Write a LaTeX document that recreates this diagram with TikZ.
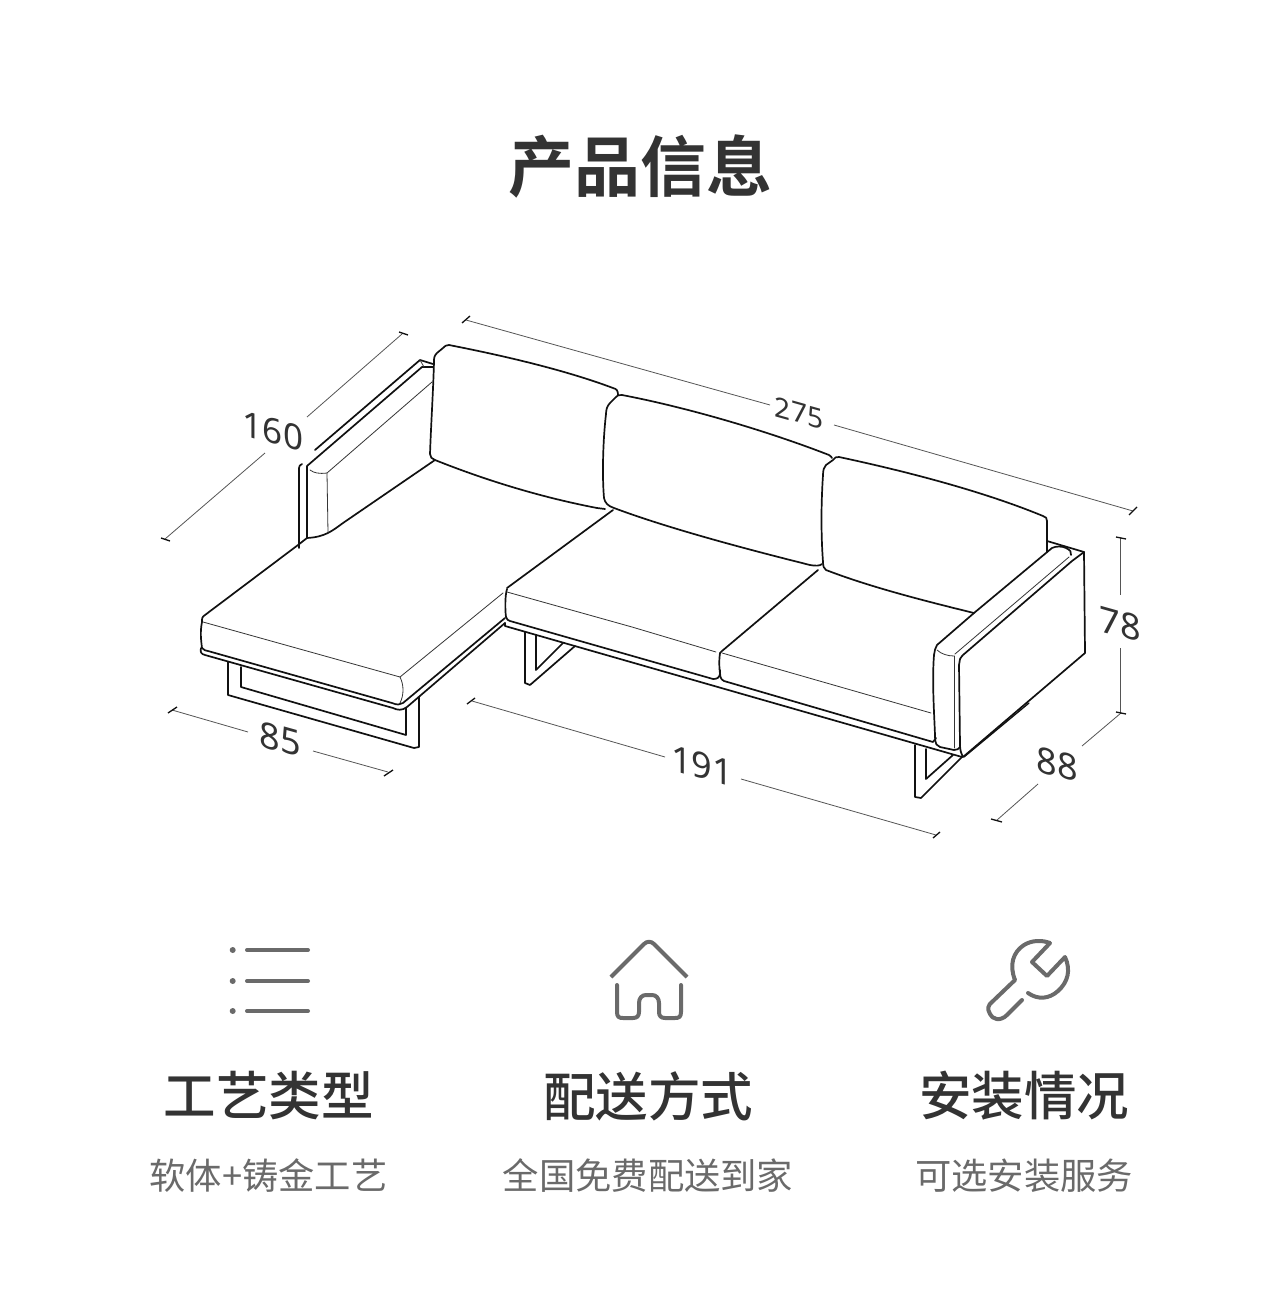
\documentclass[tikz,border=0pt]{standalone}
\usepackage{fontspec}
\setmainfont{Noto Sans}
\newfontfamily\cjk{Noto Sans CJK SC}
\newfontfamily\cjkb{Noto Sans CJK SC Bold}
\newfontfamily\cjkm{Noto Sans CJK SC Medium}
\definecolor{ink}{HTML}{111111}
\definecolor{dimc}{HTML}{555555}
\definecolor{txt}{HTML}{333333}
\definecolor{icon}{HTML}{6A6A6A}
\tikzset{
 heavy/.style={draw=ink,line width=1.7pt,line join=round,line cap=round},
 med/.style={draw=ink,line width=1.3pt,line join=round,line cap=round},
 fine/.style={draw=ink!85,line width=.8pt,line cap=round},
 dimline/.style={draw=dimc,line width=.8pt},
 tick/.style={draw=ink,line width=1.3pt},
 dimlab/.style={text=txt,inner sep=0pt,yslant=-.28},
 ico/.style={draw=icon,line width=4pt,line cap=round,line join=round},
}
\begin{document}
\begin{tikzpicture}[x=1pt,y=-1pt]
\useasboundingbox (0,0) rectangle (1280,1298);
\fill[white] (0,0) rectangle (1280,1298);
% title
\node[text=txt,inner sep=0pt] (title) at (640,166) {\cjkb\fontsize{66}{66}\selectfont 产品信息};
% backrest cushions
\draw[heavy] (618,395) .. controls (618,391) and (617,389) .. (613,388) .. controls (565,370) and (505,356) .. (449,345) .. controls (446,345) and (445,346) .. (443,348) -- (437,353) .. controls (434,356) and (434,358) .. (434,362) .. controls (433,395) and (431,425) .. (430,454) .. controls (430,457) and (432,459) .. (435,460) .. controls (490,482) and (545,498) .. (597,508) -- (605,509);
\draw[heavy] (832,458) .. controls (832,457) and (830,456) .. (829,455) .. controls (770,432) and (690,408) .. (622,395) .. controls (619,394) and (617,396) .. (616,397) -- (610,403) .. controls (607,406) and (606,410) .. (606,414) .. controls (603,440) and (602,475) .. (604,498) .. controls (605,503) and (608,506) .. (614,508) .. controls (670,529) and (750,550) .. (810,565) .. controls (815,566) and (820,566) .. (822,564);
\draw[heavy] (1047,552) -- (1047,521) .. controls (1047,518) and (1046,517) .. (1043,516) .. controls (980,490) and (900,470) .. (839,457) .. controls (836,456) and (835,458) .. (833,460) -- (826,465) .. controls (824,467) and (823,470) .. (823,475) .. controls (821,505) and (821,535) .. (823,562) .. controls (823,566) and (824,569) .. (826,570) .. controls (870,587) and (925,601) .. (974,613);
% chaise seat
\draw[heavy] (435,460) -- (343,523) .. controls (332,531) and (325,537) .. (307,538) -- (298,545) -- (205,615) .. controls (202,617) and (202,618) .. (202,622) .. controls (200,632) and (201,640) .. (202,648);
\draw[heavy] (613,510) -- (507,588);
\draw[fine] (203,622) -- (400,677) -- (503,593);
\draw[fine] (400,677) .. controls (404,685) and (404,695) .. (400,703);
% chaise frame
\draw[heavy] (202,648) .. controls (204,650) and (206,651) .. (208,651) -- (392,703) .. controls (397,705) and (400,705) .. (403,703) -- (505,618);
\draw[heavy] (201,648) .. controls (200,652) and (201,654) .. (205,655) -- (393,708) .. controls (397,710) and (402,711) .. (407,707) -- (505,623);
% chaise legs
\draw[heavy] (228,662) -- (228,695) -- (414,748) -- (419,747) -- (419,697);
\draw[heavy] (241,667) -- (241,687) -- (406,735) -- (406,708);
% left armrest
\draw[heavy] (299,548) -- (299,468) .. controls (299,466) and (300,465) .. (302,464);
\draw[heavy] (307,538) -- (307,466) -- (422,367) -- (433,367);
\draw[heavy] (315,450) -- (420,360) -- (433,364);
\draw[fine] (420,360) -- (424,367);
\draw[fine] (310,470) .. controls (314,473) and (319,474) .. (327,473) -- (432,382);
\draw[fine] (327,473) -- (328,533);
% middle seat
\draw[heavy] (507,589) .. controls (505,595) and (505,610) .. (506,617) .. controls (507,620) and (508,620) .. (510,621) -- (713,679) .. controls (717,679) and (719,678) .. (720,674) .. controls (719,665) and (719,660) .. (720,653) -- (722,651) -- (818,570);
\draw[fine] (507,592) -- (632,627) -- (716,652);
% right seat
\draw[heavy] (720,670) .. controls (720,676) and (720,679) .. (724,681) -- (933,742) -- (936,738);
\draw[fine] (722,653) -- (931,713);
% frame lower rail
\draw[heavy] (505,623) -- (505,626) -- (962,757);
% mid legs
\draw[heavy] (525,632) -- (525,683) -- (530,685) -- (575,646);
\draw[heavy] (536,635) -- (536,670) -- (563,643);
% right legs
\draw[heavy] (915,745) -- (915,797) -- (921,798) -- (962,757);
\draw[heavy] (926,749) -- (926,779) -- (953,755);
% right armrest
\draw[heavy] (974,613) -- (1052,548) .. controls (1056,546) and (1062,546) .. (1066,548) .. controls (1070,550) and (1072,552) .. (1071,555);
\draw[heavy] (974,613) -- (937,645) .. controls (935,648) and (935,650) .. (934,655) .. controls (932,680) and (934,710) .. (935,735) .. controls (935,745) and (937,746) .. (940,747) -- (954,750) .. controls (957,750) and (959,749) .. (960,747);
\draw[fine] (937,650) .. controls (941,654) and (948,656) .. (954,656);
\draw[fine] (955,654) -- (1069,557);
\draw[fine] (954,656) -- (954,748);
\draw[heavy] (960,659) .. controls (962,656) and (962,656) .. (963,655) -- (1072,561) -- (1084,552) -- (1085,653) -- (963,757) .. controls (961,753) and (960,750) .. (960,745) -- (959,665) -- (960,659);
\draw[heavy] (1047,541) -- (1084,552);
\draw[med] (1029,703) -- (964,757);
% dimensions
\coordinate (a1) at (402,334); \coordinate (a2) at (307,417); \coordinate (a3) at (265,453); \coordinate (a4) at (165,539);
\draw[dimline] (a1)--(a2) (a3)--(a4);
\draw[tick] (399,332)--(408,335) (161,538)--(170,541);
\node[dimlab] (d160) at (273,431) {\fontsize{35}{35}\selectfont 160};
\coordinate (b1) at (172,710); \coordinate (b2) at (248,732); \coordinate (b3) at (313,751); \coordinate (b4) at (388,772);
\draw[dimline] (b1)--(b2) (b3)--(b4);
\draw[tick] (168,713)--(177,707) (384,776)--(393,770);
\node[dimlab] (d85) at (280,739) {\fontsize{36}{36}\selectfont 85};
\coordinate (c1) at (466,320); \coordinate (c2) at (770,405); \coordinate (c3) at (834,425); \coordinate (c4) at (1133,511);
\draw[dimline] (c1)--(c2) (c3)--(c4);
\draw[tick] (462,323)--(470,316) (1129,515)--(1137,507);
\node[dimlab] (d275) at (799,413) {\fontsize{28}{28}\selectfont 275};
\coordinate (e1) at (472,701); \coordinate (e2) at (665,757); \coordinate (e3) at (741,779); \coordinate (e4) at (936,835);
\draw[dimline] (e1)--(e2) (e3)--(e4);
\draw[tick] (467,704)--(475,698) (933,838)--(940,832);
\node[dimlab] (d191) at (702,766) {\fontsize{36}{36}\selectfont 191};
\coordinate (f1) at (1121,713); \coordinate (f2) at (1082,746); \coordinate (f3) at (1038,784); \coordinate (f4) at (997,820);
\draw[dimline] (f1)--(f2) (f3)--(f4);
\draw[tick] (991,819)--(1002,822);
\node[dimlab] (d88) at (1057,764) {\fontsize{36}{36}\selectfont 88};
\coordinate (g1) at (1120,538); \coordinate (g2) at (1120,595); \coordinate (g3) at (1120,648); \coordinate (g4) at (1120,713);
\draw[dimline] (g1)--(g2) (g3)--(g4);
\draw[tick] (1116,537)--(1126,539) (1116,712)--(1126,714);
\node[dimlab] (d78) at (1120,624) {\fontsize{36}{36}\selectfont 78};
% list icon
\foreach \yy in {950,981,1011}{
 \fill[icon] (232.7,\yy) circle (3);
 \draw[ico] (247,\yy) -- (308,\yy);
}
% house icon
\draw[ico,line cap=butt] (611,977) -- (644,944) .. controls (647,941) and (651,941) .. (654,944) -- (687,977);
\draw[ico] (617,985) -- (617,1012) .. controls (617,1017) and (619,1018) .. (623,1018) -- (633,1018) .. controls (637,1018) and (639,1016) .. (639,1012) -- (639,1003) .. controls (639,998) and (642,995) .. (646,995) -- (652,995) .. controls (656,995) and (659,998) .. (659,1003) -- (659,1012) .. controls (659,1016) and (661,1018) .. (665,1018) -- (675,1018) .. controls (679,1018) and (681,1017) .. (681,1012) -- (681,985);
% wrench icon
\draw[ico] (1022,1000) -- (1007,1015) .. controls (1000,1022) and (992,1019) .. (990,1014) .. controls (987,1009) and (988,1005) .. (992,1002) -- (1015,980) .. controls (1009,965) and (1013,952) .. (1024,945) .. controls (1032,940) and (1042,940) .. (1050,943) -- (1032,962) -- (1047,976) -- (1065,957) .. controls (1071,970) and (1068,982) .. (1058,991) .. controls (1049,999) and (1038,1000) .. (1028,993);
% headings
\node[text=txt,inner sep=0pt] (h1) at (268.5,1096) {\cjkm\fontsize{52.5}{52.5}\selectfont 工艺类型};
\node[text=txt,inner sep=0pt] (h2) at (648,1096) {\cjkm\fontsize{52.5}{52.5}\selectfont 配送方式};
\node[text=txt,inner sep=0pt] (h3) at (1024,1096) {\cjkm\fontsize{52.5}{52.5}\selectfont 安装情况};
\node[text=icon,inner sep=0pt] (s1) at (268.5,1176) {\cjk\fontsize{36.3}{36.3}\selectfont 软体+铸金工艺};
\node[text=icon,inner sep=0pt] (s2) at (648,1176) {\cjk\fontsize{36.3}{36.3}\selectfont 全国免费配送到家};
\node[text=icon,inner sep=0pt] (s3) at (1024,1176) {\cjk\fontsize{36.3}{36.3}\selectfont 可选安装服务};
\end{tikzpicture}
\end{document}
